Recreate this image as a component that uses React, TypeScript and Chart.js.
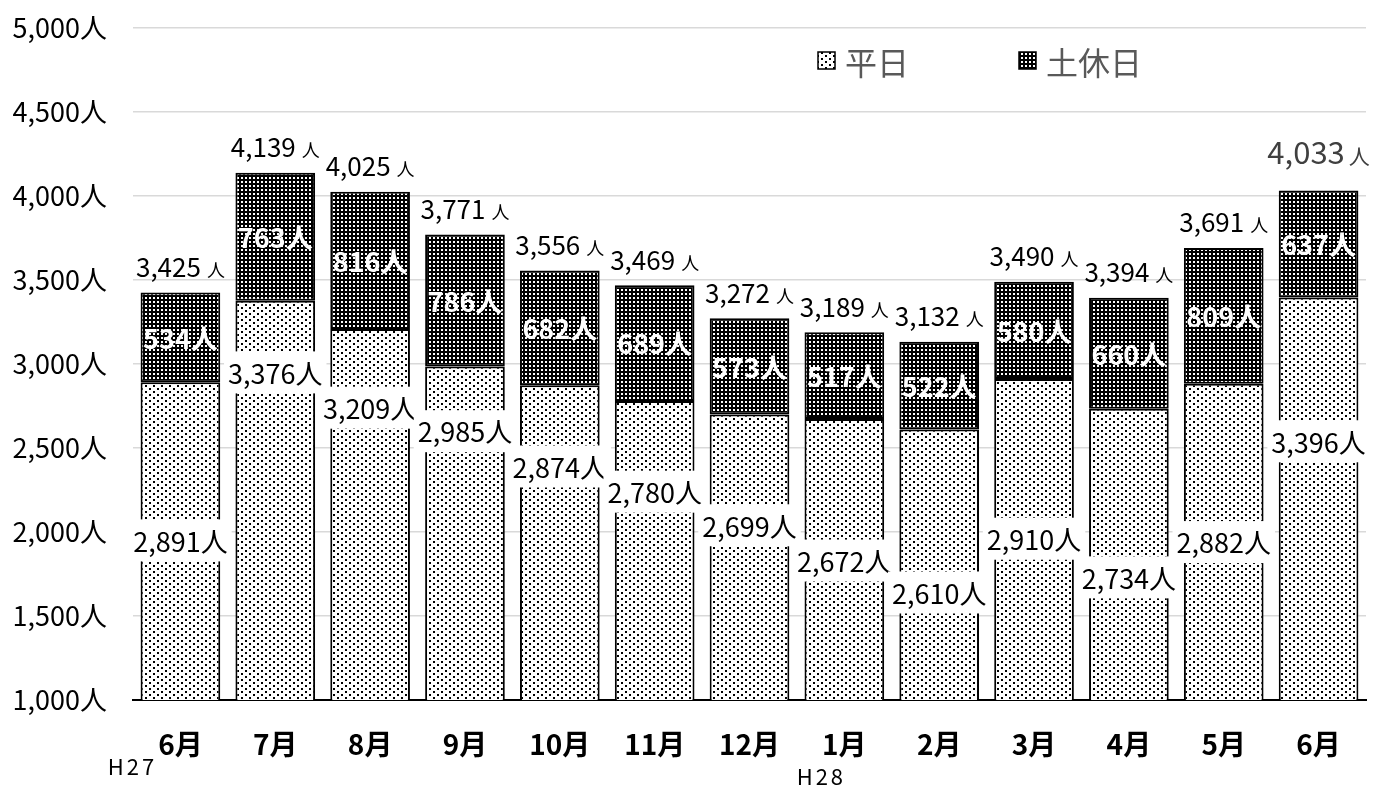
import React, { useEffect, useRef } from 'react';
import { Chart, registerables } from 'chart.js';
Chart.register(...registerables);

const months = ['6月', '7月', '8月', '9月', '10月', '11月', '12月', '1月', '2月', '3月', '4月', '5月', '6月'];
const weekday = [2891, 3376, 3209, 2985, 2874, 2780, 2699, 2672, 2610, 2910, 2734, 2882, 3396];
const holiday = [534, 763, 816, 786, 682, 689, 573, 517, 522, 580, 660, 809, 637];
const totals = [3425, 4139, 4025, 3771, 3556, 3469, 3272, 3189, 3132, 3490, 3394, 3691, 4033];
// where the weekday value labels sit (value units), as placed in the original
const weekdayLabelAt = [1950, 2950, 2740, 2600, 2390, 2240, 2040, 1830, 1640, 1960, 1730, 1940, 2540];
const seriesNames = ['平日', '土休日'];
const yearLabels = ['H27', 'H28'];
const yearIndex = [0, 7];
const yMin = 1000;
const yMax = 5000;
const yStep = 500;

const FONT = "'Noto Sans CJK JP', 'Noto Sans', sans-serif";

function makeWeekdayPattern(ctx: CanvasRenderingContext2D) {
  const c = document.createElement('canvas');
  c.width = 8;
  c.height = 6;
  const g = c.getContext('2d')!;
  g.fillStyle = '#ffffff';
  g.fillRect(0, 0, 8, 6);
  g.fillStyle = '#000000';
  g.fillRect(1, 1, 2, 2);
  g.fillRect(5, 4, 2, 2);
  return ctx.createPattern(c, 'repeat')!;
}

function makeHolidayPattern(ctx: CanvasRenderingContext2D) {
  const c = document.createElement('canvas');
  c.width = 4;
  c.height = 4;
  const g = c.getContext('2d')!;
  g.fillStyle = '#000000';
  g.fillRect(0, 0, 4, 4);
  g.fillStyle = '#ffffff';
  g.fillRect(1, 1, 2, 2);
  return ctx.createPattern(c, 'repeat')!;
}

const fmt = (v: number) => v.toLocaleString('en-US');

const labelPlugin = {
  id: 'customLabels',
  afterDatasetsDraw(chart: any) {
    const ctx: CanvasRenderingContext2D = chart.ctx;
    const yScale = chart.scales.y;
    const xScale = chart.scales.x;
    const m1 = chart.getDatasetMeta(1);
    ctx.save();
    for (let i = 0; i < months.length; i++) {
      const b1 = m1.data[i];
      const x = b1.x;
      // holiday value labels (white bold, centered in segment)
      const mid = (b1.y + b1.base) / 2;
      ctx.font = `bold 27px ${FONT}`;
      ctx.textAlign = 'center';
      ctx.textBaseline = 'middle';
      ctx.fillStyle = '#ffffff';
      ctx.fillText(fmt(holiday[i]) + '人', x, mid + 1);

      // weekday value labels with white boxes
      const wy = yScale.getPixelForValue(weekdayLabelAt[i]);
      ctx.font = `27px ${FONT}`;
      const wt = fmt(weekday[i]) + '人';
      const ww = ctx.measureText(wt).width;
      ctx.fillStyle = '#ffffff';
      ctx.fillRect(x - ww / 2 - 4, wy - 21, ww + 8, 42);
      ctx.fillStyle = '#000000';
      ctx.fillText(wt, x, wy + 1);

      // totals
      const last = i === months.length - 1;
      const bigSize = last ? 31 : 26;
      const smallSize = last ? 21 : 18;
      const gap = last ? 4 : 6;
      const ty = b1.y - (last ? 38 : 25);
      ctx.font = `${bigSize}px ${FONT}`;
      const t1 = fmt(totals[i]);
      const w1 = ctx.measureText(t1).width;
      ctx.font = `${smallSize}px ${FONT}`;
      const w2 = ctx.measureText('人').width;
      const total = w1 + gap + w2;
      const sx = x - total / 2;
      ctx.textAlign = 'left';
      ctx.textBaseline = 'alphabetic';
      ctx.fillStyle = last ? '#404040' : '#000000';
      ctx.font = `${bigSize}px ${FONT}`;
      ctx.fillText(t1, sx, ty + bigSize * 0.36);
      ctx.font = `${smallSize}px ${FONT}`;
      ctx.fillText('人', sx + w1 + gap, ty + bigSize * 0.36);
    }

    // year marks under the axis
    const yearOffsets = [-48, -23];
    const yearY = [767, 777];
    ctx.font = `22px ${FONT}`;
    (ctx as any).letterSpacing = '3px';
    ctx.textAlign = 'center';
    ctx.textBaseline = 'middle';
    ctx.fillStyle = '#000000';
    for (let k = 0; k < yearLabels.length; k++) {
      const px = xScale.getPixelForValue(yearIndex[k]) + yearOffsets[k];
      ctx.fillText(yearLabels[k], px, yearY[k]);
    }
    (ctx as any).letterSpacing = '0px';

    // legend
    const ds = chart.data.datasets;
    const legendX = [818, 1019];
    ctx.font = `32px ${FONT}`;
    ctx.textAlign = 'left';
    ctx.textBaseline = 'middle';
    for (let k = 0; k < seriesNames.length; k++) {
      const bx = legendX[k];
      const by = 52;
      ctx.fillStyle = ds[k].backgroundColor;
      ctx.fillRect(bx, by, 17, 17);
      ctx.strokeStyle = '#000000';
      ctx.lineWidth = 1.5;
      ctx.strokeRect(bx, by, 17, 17);
      ctx.fillStyle = '#595959';
      ctx.fillText(seriesNames[k], bx + 27, 63);
    }
    ctx.restore();
  },
};

export default function App() {
  const ref = useRef<HTMLCanvasElement>(null);
  useEffect(() => {
    const canvas = ref.current!;
    const ctx = canvas.getContext('2d')!;
    const pWeek = makeWeekdayPattern(ctx);
    const pHol = makeHolidayPattern(ctx);
    const chart = new Chart(canvas, {
      type: 'bar',
      data: {
        labels: months,
        datasets: [
          {
            label: seriesNames[0],
            data: weekday,
            backgroundColor: pWeek as any,
            borderColor: '#000000',
            borderWidth: 2,
            borderSkipped: false,
            barPercentage: 0.84,
            categoryPercentage: 1,
          },
          {
            label: seriesNames[1],
            data: holiday,
            backgroundColor: pHol as any,
            borderColor: '#000000',
            borderWidth: 2,
            borderSkipped: false,
            barPercentage: 0.84,
            categoryPercentage: 1,
          },
        ],
      },
      options: {
        responsive: false,
        animation: false,
        layout: { padding: { left: 0, right: 23, top: 28, bottom: 0 } },
        plugins: {
          legend: { display: false },
          tooltip: { enabled: false },
        },
        scales: {
          x: {
            stacked: true,
            grid: { display: false },
            border: { display: true, color: '#000000', width: 2 },
            ticks: {
              color: '#000000',
              font: { family: FONT, size: 28, weight: 'bold' },
              padding: 20,
            },
            afterFit: (s: any) => {
              s.height = 90;
              s.paddingLeft = 0;
              s.paddingRight = 0;
            },
          },
          y: {
            stacked: true,
            min: yMin,
            max: yMax,
            grid: { color: '#d9d9d9', lineWidth: 1.5, drawTicks: false },
            border: { display: false },
            ticks: {
              stepSize: yStep,
              color: '#000000',
              font: { family: FONT, size: 27 },
              padding: 26,
              callback: (v: any) => fmt(Number(v)) + '人',
            },
            afterFit: (s: any) => {
              s.width = 133;
              s.paddingTop = 0;
              s.paddingBottom = 0;
            },
          },
        },
      },
      plugins: [labelPlugin],
    });
    return () => chart.destroy();
  }, []);
  return (
    <div style={{ position: 'fixed', left: 0, top: 0, width: 1389, height: 790, background: '#fff' }}>
      <canvas ref={ref} width={1389} height={790} style={{ display: 'block' }} />
    </div>
  );
}
